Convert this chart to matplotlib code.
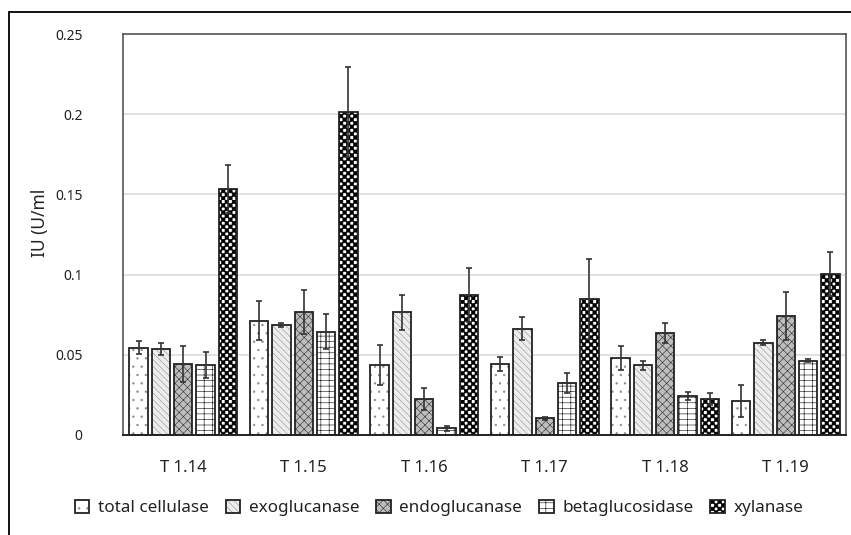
import numpy as np
import matplotlib
matplotlib.use("Agg")
import matplotlib.pyplot as plt
from matplotlib import hatch as mhatch
from matplotlib.path import Path
from matplotlib.patches import Rectangle

# ---- data ----
samples = ["T 1.14", "T 1.15", "T 1.16", "T 1.17", "T 1.18", "T 1.19"]
enzymes = ["total cellulase", "exoglucanase", "endoglucanase", "betaglucosidase", "xylanase"]

total_cellulase = [0.0544, 0.0713, 0.0436, 0.0443, 0.0482, 0.0212]
exoglucanase = [0.0536, 0.0684, 0.0765, 0.0663, 0.0434, 0.0576]
endoglucanase = [0.0443, 0.0767, 0.0224, 0.0104, 0.0634, 0.0744]
betaglucosidase = [0.0436, 0.0644, 0.0042, 0.0324, 0.0243, 0.0463]
xylanase = [0.1534, 0.2016, 0.0873, 0.0846, 0.0224, 0.1006]

total_cellulase_err = [0.0042, 0.0120, 0.0127, 0.0042, 0.0075, 0.0100]
exoglucanase_err = [0.0040, 0.0012, 0.0110, 0.0070, 0.0027, 0.0015]
endoglucanase_err = [0.0114, 0.0140, 0.0070, 0.0010, 0.0062, 0.0150]
betaglucosidase_err = [0.0080, 0.0110, 0.0014, 0.0060, 0.0023, 0.0010]
xylanase_err = [0.0150, 0.0280, 0.0170, 0.0250, 0.0040, 0.0137]

values = [total_cellulase, exoglucanase, endoglucanase, betaglucosidase, xylanase]
errors = [total_cellulase_err, exoglucanase_err, endoglucanase_err,
          betaglucosidase_err, xylanase_err]


# checkerboard hatch for the xylanase bars (takes over the 'O' hatch char)
class CheckerHatch(mhatch.HatchPatternBase):
    def __init__(self, hatch, density):
        self.n = 28 if hatch.count("O") else 0
        self.num_vertices = (self.n * self.n // 2) * 5

    def set_vertices_and_codes(self, vertices, codes):
        s = 1.0 / self.n
        k = 0
        for i in range(self.n):
            for j in range(self.n):
                if (i + j) % 2 == 0:
                    x, y = j * s, i * s
                    vertices[k:k + 5] = [(x, y), (x + s, y), (x + s, y + s), (x, y + s), (x, y)]
                    codes[k:k + 5] = [Path.MOVETO, Path.LINETO, Path.LINETO,
                                      Path.LINETO, Path.CLOSEPOLY]
                    k += 5


mhatch._hatch_types[:] = [h for h in mhatch._hatch_types if h is not mhatch.LargeCircles]
mhatch._hatch_types.append(CheckerHatch)

plt.rcParams["font.family"] = ["Noto Sans", "DejaVu Sans"]
plt.rcParams["hatch.linewidth"] = 0.45

styles = [
    dict(face="white", hatch="..", hcolor="#8a8a8a"),
    dict(face="#ededed", hatch="\\\\\\\\\\", hcolor="#9a9a9a"),
    dict(face="#bdbdbd", hatch="xxxx", hcolor="#3a3a3a"),
    dict(face="white", hatch="++-", hcolor="#222222"),
    dict(face="white", hatch="O", hcolor="black"),
]

fig = plt.figure(figsize=(8.51, 5.35), dpi=100)
ax = fig.add_axes([123 / 851, 1 - 435 / 535, 723 / 851, 401 / 535])

x = np.arange(len(samples))
pitch = 0.185
width = 0.153
handles = []
for k, (vals, errs, st) in enumerate(zip(values, errors, styles)):
    pos = x + (k - 2) * pitch
    fill = ax.bar(pos, vals, width, color=st["face"], edgecolor=st["hcolor"],
                  hatch=st["hatch"], linewidth=0, zorder=2)
    outline = ax.bar(pos, vals, width, facecolor="none", edgecolor="#222222",
                     linewidth=1.3, zorder=3)
    ax.errorbar(pos, vals, yerr=errs, fmt="none", ecolor="#333333",
                elinewidth=1.2, capsize=2.4, capthick=1.2, zorder=4)
    handles.append((fill, outline))

ax.set_xlim(-0.5, len(samples) - 0.5)
ax.set_ylim(0, 0.25)
ax.set_yticks([0, 0.05, 0.1, 0.15, 0.2, 0.25])
ax.set_yticklabels(["0", "0.05", "0.1", "0.15", "0.2", "0.25"])
ax.set_xticks(x)
ax.set_xticklabels(samples)
ax.tick_params(axis="x", length=0, pad=18, labelsize=12, labelcolor="#222222")
ax.tick_params(axis="y", length=0, pad=29, labelsize=10, labelcolor="#222222")
ax.yaxis.grid(True, color="#d9d9d9", linewidth=1.1, zorder=0)
ax.set_axisbelow(True)
for side in ["left", "right", "top"]:
    ax.spines[side].set_color("#555555")
    ax.spines[side].set_linewidth(1.2)
ax.spines["bottom"].set_color("#222222")
ax.spines["bottom"].set_linewidth(1.4)

fig.text(40 / 851, 1 - 223 / 535, "IU (U/ml", rotation=90, ha="center", va="center",
         fontsize=12.5, color="#222222")

ax.legend(handles, enzymes, loc="center", bbox_to_anchor=(439 / 851, 1 - 508 / 535),
          bbox_transform=fig.transFigure, ncol=5, frameon=False, fontsize=12.3,
          handlelength=0.85, handleheight=0.85, handletextpad=0.5, columnspacing=1.0,
          labelcolor="#222222")

# outer frame of the pasted figure
fig.patches.append(Rectangle((9 / 851, -0.1), 1.2, 1 - 12 / 535 + 0.1, transform=fig.transFigure,
                             fill=False, edgecolor="black", linewidth=1.3))

fig.savefig("out.png", dpi=100)
